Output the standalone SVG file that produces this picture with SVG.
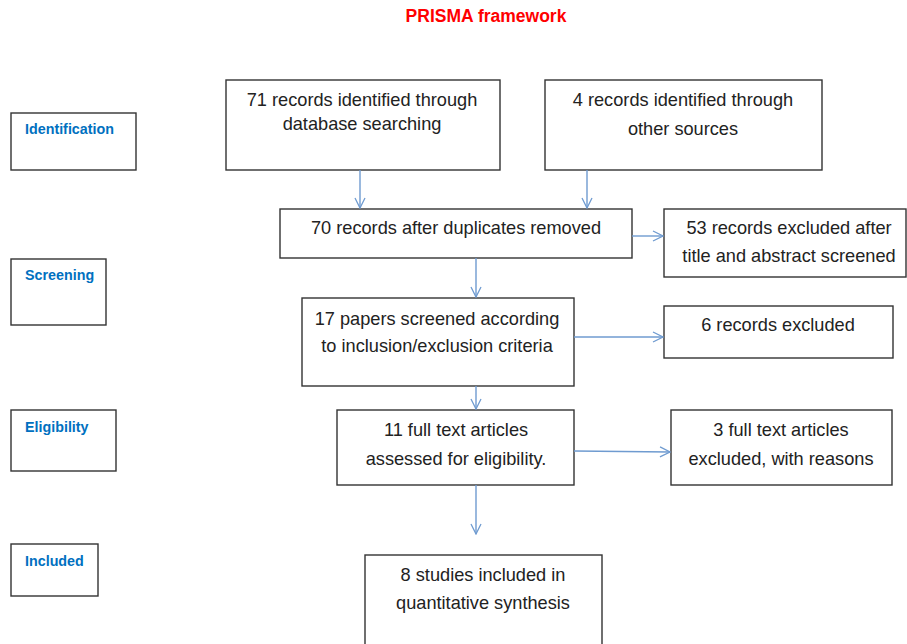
<svg xmlns="http://www.w3.org/2000/svg" width="907" height="644" viewBox="0 0 907 644">
<defs>
<marker id="arr" viewBox="0 0 12 12" refX="11" refY="6" markerWidth="12" markerHeight="12" markerUnits="userSpaceOnUse" orient="auto">
<path d="M1,1 L11,6 L1,11" fill="none" stroke="#6f9bd0" stroke-width="1.3"/>
</marker>
</defs>
<style>
.box{fill:#fff;stroke:#333;stroke-width:1.4}
.t{font-family:"Liberation Sans",Arial,sans-serif;font-size:18.2px;fill:#222;text-anchor:middle}
.s{font-family:"Liberation Sans",Arial,sans-serif;font-size:14.3px;font-weight:bold;fill:#0070c0}
.c{fill:none;stroke:#6f9bd0;stroke-width:1.4;marker-end:url(#arr)}
</style>
<rect width="907" height="644" fill="#fff"/>
<text x="486" y="22" font-family="Liberation Sans,Arial,sans-serif" font-size="17.5" font-weight="bold" fill="#f00" text-anchor="middle">PRISMA framework</text>
<g id="stage-identification"><rect class="box" x="11" y="113" width="125" height="57"/><text class="s" x="25" y="134">Identification</text></g>
<g id="stage-screening"><rect class="box" x="11" y="259" width="95" height="66"/><text class="s" x="25" y="280">Screening</text></g>
<g id="stage-eligibility"><rect class="box" x="11" y="410" width="105" height="61"/><text class="s" x="25" y="432">Eligibility</text></g>
<g id="stage-included"><rect class="box" x="11" y="544" width="87" height="52"/><text class="s" x="25" y="566">Included</text></g>
<g id="db"><rect class="box" x="226" y="80" width="274" height="90"/><text class="t" x="362" y="106">71 records identified through</text><text class="t" x="362" y="130">database searching</text></g>
<g id="other"><rect class="box" x="545" y="80" width="277" height="90"/><text class="t" x="683" y="106">4 records identified through</text><text class="t" x="683" y="135">other sources</text></g>
<g id="dedup"><rect class="box" x="280" y="209" width="352" height="49"/><text class="t" x="456" y="234">70 records after duplicates removed</text></g>
<g id="excl1"><rect class="box" x="664" y="209" width="242" height="68"/><text class="t" x="789" y="234">53 records excluded after</text><text class="t" x="789" y="262">title and abstract screened</text></g>
<g id="screen"><rect class="box" x="302" y="298" width="272" height="88"/><text class="t" x="437" y="325">17 papers screened according</text><text class="t" x="437" y="352">to inclusion/exclusion criteria</text></g>
<g id="excl2"><rect class="box" x="664" y="306" width="229" height="52"/><text class="t" x="778" y="331">6 records excluded</text></g>
<g id="full"><rect class="box" x="337" y="410" width="237" height="75"/><text class="t" x="456" y="436">11 full text articles</text><text class="t" x="456" y="465">assessed for eligibility.</text></g>
<g id="excl3"><rect class="box" x="671" y="410" width="221" height="75"/><text class="t" x="781" y="436">3 full text articles</text><text class="t" x="781" y="465">excluded, with reasons</text></g>
<g id="incl"><rect class="box" x="365" y="555" width="237" height="95"/><text class="t" x="483" y="581">8 studies included in</text><text class="t" x="483" y="609">quantitative synthesis</text></g>
<g id="connectors">
<path class="c" d="M360,170 V208"/>
<path class="c" d="M587,170 V208"/>
<path class="c" d="M632,236 H663"/>
<path class="c" d="M476,258 V297"/>
<path class="c" d="M574,337 H663"/>
<path class="c" d="M476,386 V409"/>
<path class="c" d="M574,451 L670,452"/>
<path class="c" d="M476,485 V534"/>
</g>
</svg>
